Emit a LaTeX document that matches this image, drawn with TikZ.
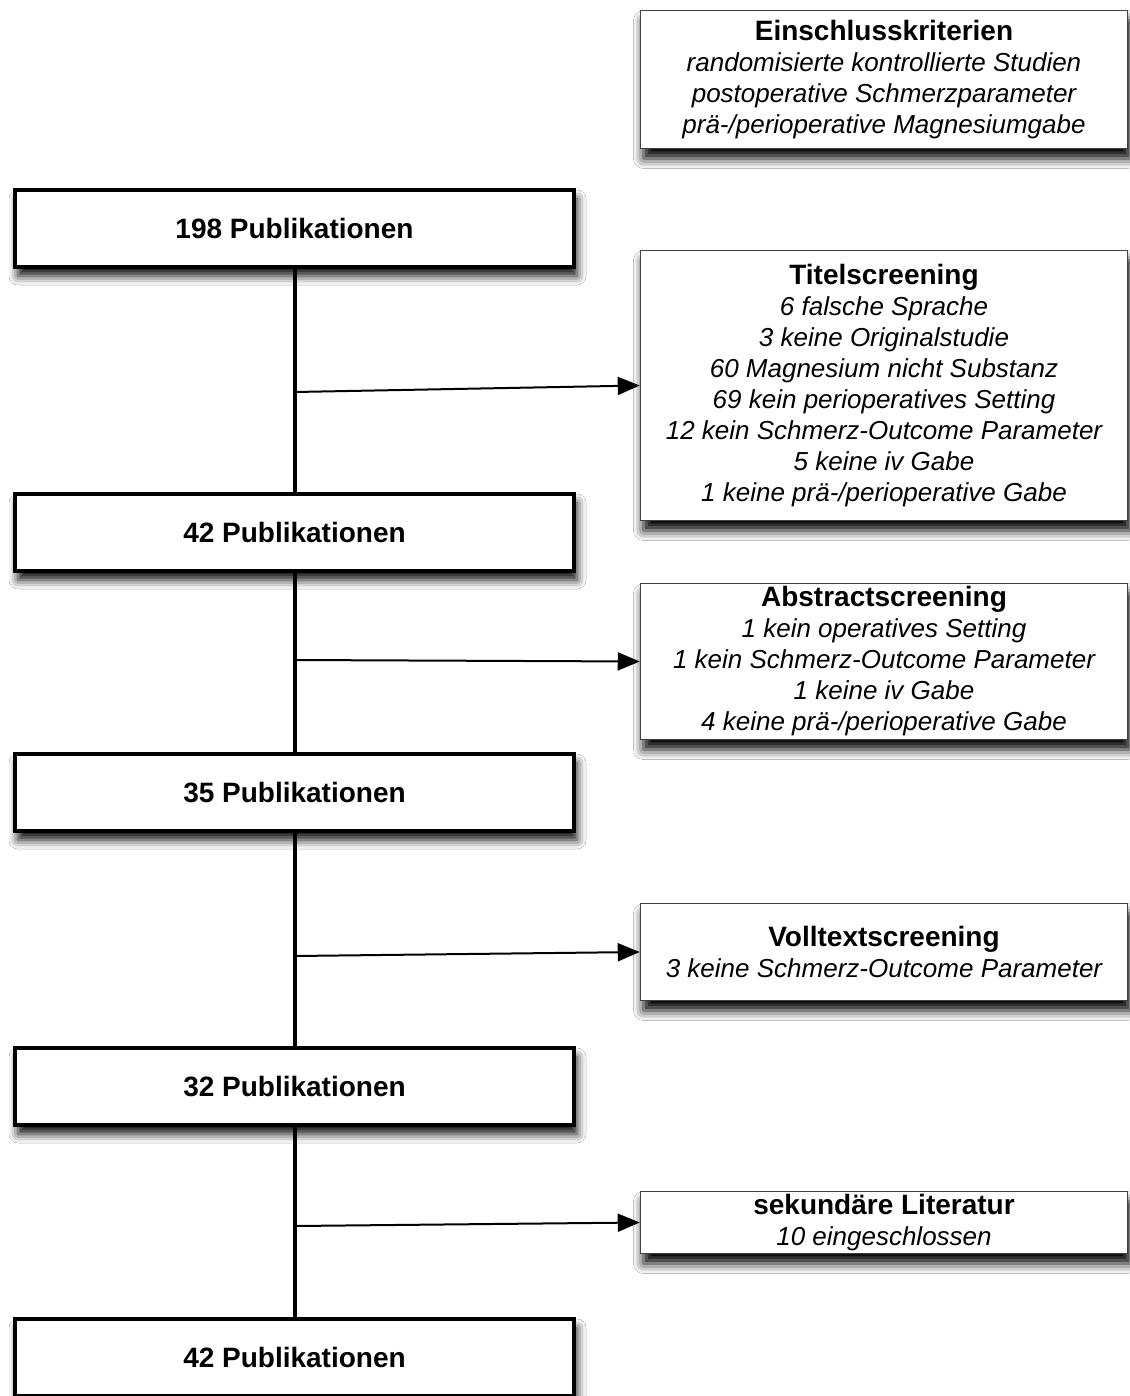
\documentclass[tikz,border=0pt]{standalone}
\usepackage{fontspec}
\setmainfont{Liberation Sans}
\usetikzlibrary{arrows.meta,shadows.blur}
\begin{document}
\begin{tikzpicture}[x=1pt,y=-1pt,
  leftbox/.style={draw=black, line width=4pt, fill=white, minimum width=559pt, minimum height=77pt, inner sep=0pt,
    font=\fontsize{28}{31}\selectfont\bfseries,
    blur shadow={shadow xshift=3pt, shadow yshift=-9pt, shadow blur radius=9pt, shadow opacity=95}},
  rightbox/.style={draw=black!75, line width=1.5pt, fill=white, minimum width=487pt, inner sep=0pt, align=center,
    font=\fontsize{26}{31}\selectfont\itshape,
    blur shadow={shadow xshift=3pt, shadow yshift=-10pt, shadow blur radius=10pt, shadow opacity=100}},
  spine/.style={line width=4pt},
  arr/.style={line width=2pt, -{Triangle[length=22pt,width=18pt]}}
]
\newcommand{\bxtitle}[1]{{\upshape\bfseries\fontsize{28}{31}\selectfont #1}}
\useasboundingbox[fill=white] (0,0) rectangle (1129,1396);

\node[rightbox, minimum height=138pt] (einschl) at (884,79.5)
  {\bxtitle{Einschlusskriterien}\\
   randomisierte kontrollierte Studien\\
   postoperative Schmerzparameter\\
   prä-/perioperative Magnesiumgabe};

\node[leftbox] (p198) at (294.5,228.5) {198 Publikationen};
\node[leftbox] (p42a) at (294.5,532.5) {42 Publikationen};
\node[leftbox] (p35) at (294.5,792.5) {35 Publikationen};
\node[leftbox] (p32) at (294.5,1086.5) {32 Publikationen};
\node[leftbox] (p42b) at (294.5,1357.5) {42 Publikationen};

\node[rightbox, minimum height=270pt] (titel) at (884,385.5)
  {\bxtitle{Titelscreening}\\
   6 falsche Sprache\\
   3 keine Originalstudie\\
   60 Magnesium nicht Substanz\\
   69 kein perioperatives Setting\\
   12 kein Schmerz-Outcome Parameter\\
   5 keine iv Gabe\\
   1 keine prä-/perioperative Gabe};

\node[rightbox, minimum height=156pt] (abstract) at (884,661.5)
  {\bxtitle{Abstractscreening}\\
   1 kein operatives Setting\\
   1 kein Schmerz-Outcome Parameter\\
   1 keine iv Gabe\\
   4 keine prä-/perioperative Gabe};

\node[rightbox, minimum height=97pt] (volltext) at (884,952)
  {\bxtitle{Volltextscreening}\\
   3 keine Schmerz-Outcome Parameter};

\node[rightbox, minimum height=62pt] (sekund) at (884,1222.5)
  {\bxtitle{sekundäre Literatur}\\
   10 eingeschlossen};

\draw[spine] (p198.south) -- (p42a.north);
\draw[spine] (p42a.south) -- (p35.north);
\draw[spine] (p35.south) -- (p32.north);
\draw[spine] (p32.south) -- (p42b.north);

\coordinate (s1) at (295,392);
\coordinate (s2) at (295,660);
\coordinate (s3) at (295,956);
\coordinate (s4) at (295,1226);

\draw[arr] (s1) -- (titel.west);
\draw[arr] (s2) -- (abstract.west);
\draw[arr] (s3) -- (volltext.west);
\draw[arr] (s4) -- (sekund.west);
\end{tikzpicture}
\end{document}
